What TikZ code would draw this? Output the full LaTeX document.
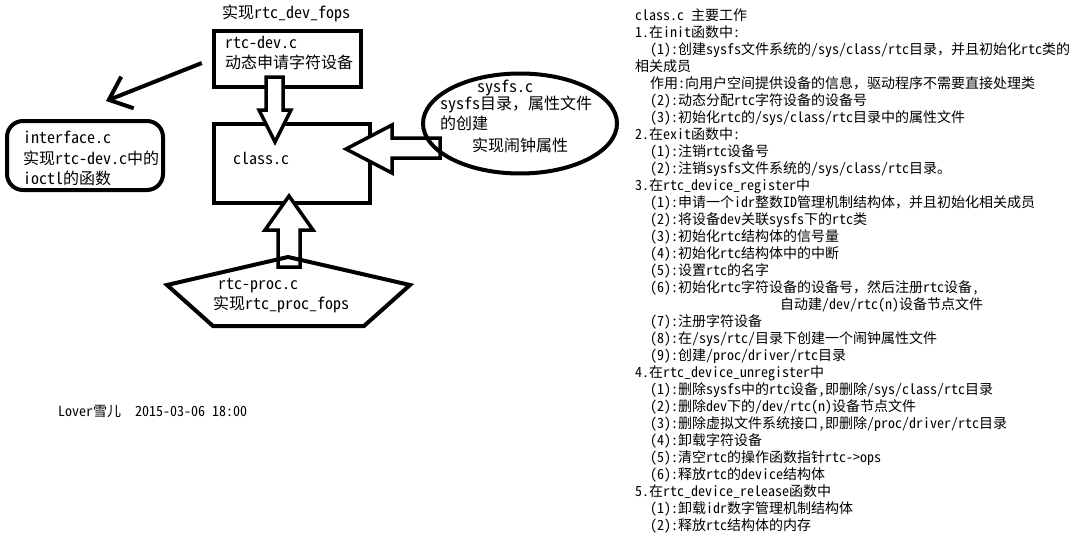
\documentclass[tikz,border=0pt]{standalone}
\usepackage{fontspec}
\setmainfont{Noto Sans CJK SC}[RawFeature=+hwid]
\newfontfamily\zhfull{Noto Sans CJK SC}
\newcommand\zhcomma{{\zhfull ，}}
\usepackage{tikz}
\usetikzlibrary{arrows.meta,shapes.geometric,positioning,calc}

\begin{document}
\begin{tikzpicture}[x=1pt,y=-1pt,>={Straight Barb[length=20pt,width=34pt]},
  frame/.style={draw,line width=4pt,inner sep=0pt},
  lbl/.style={anchor=west,inner sep=0pt,font=\fontsize{16}{20}\selectfont},
  blk/.style={draw,line width=3.5pt,fill=white,line join=miter}]
  \useasboundingbox (0,0) rectangle (1091,543);
  % rtc-dev
  \node[frame,minimum width=147pt,minimum height=56pt] (dev) at (287.5,59) {};
  \node[lbl] (devfops) at (222,13) {实现rtc\_dev\_fops};
  \node[lbl] (devname) at (225,42) {rtc-dev.c};
  \node[lbl] (devnote) at (225,62) {动态申请字符设备};
  % interface
  \node[frame,rounded corners=16pt,minimum width=156pt,minimum height=69pt] (iface) at (85,155.5) {};
  \node[lbl] (ifname) at (23,137) {interface.c};
  \node[lbl] (ifnote) at (23,158) {实现rtc-dev.c中的};
  \node[lbl] (ifioctl) at (23,178) {ioctl的函数};
  \coordinate (iftip) at (106,101);
  \draw[line width=4pt,->,shorten <=11pt] (dev.west) -- (iftip);
  % class
  \node[frame,minimum width=156pt,minimum height=79pt] (cls) at (292,163.5) {};
  \node[lbl] (clsname) at (233,158) {class.c};
  \draw[blk] (266,77) -- (283,77) -- (283,110) -- (291,110) -- (275,142) -- (259,110) -- (266,110) -- cycle;
  \draw[blk] (289,196) -- (313,230) -- (300,230) -- (300,267) -- (278,267) -- (278,230) -- (265,230) -- cycle;
  \draw[blk] (346,149) -- (392,125) -- (392,138) -- (440,138) -- (440,158) -- (392,158) -- (392,173) -- cycle;
  % sysfs
  \node[frame,ellipse,minimum width=194pt,minimum height=100pt] (sysfs) at (520,123.5) {};
  \node[lbl] (sysname) at (477,88) {sysfs.c};
  \node[lbl] (sysdir) at (440,104) {sysfs目录\zhcomma 属性文件};
  \node[lbl] (sysmake) at (440,123) {的创建};
  \node[lbl] (sysalarm) at (472,145) {实现闹钟属性};
  % rtc-proc
  \draw[line width=4pt,line join=miter] (288,257) -- (410,285) -- (364,326) -- (213,326) -- (167,285) -- cycle;
  \node[lbl] (procname) at (218,286) {rtc-proc.c};
  \node[lbl] (procfops) at (213,304) {实现rtc\_proc\_fops};
  % author
  \node[lbl,font=\fontsize{14}{17}\selectfont] (author) at (58,411) {Lover雪儿\ \ 2015-03-06 18:00};
  % class.c work list
  \node[anchor=north west,inner sep=0pt,align=left,font=\fontsize{14}{17}\selectfont] (notes) at (635,9) {%
class.c 主要工作\\
1.在init函数中:\\
\hspace*{15pt}(1):创建sysfs文件系统的/sys/class/rtc目录\zhcomma 并且初始化rtc类的\\
相关成员\\
\hspace*{15pt}作用:向用户空间提供设备的信息\zhcomma 驱动程序不需要直接处理类\\
\hspace*{15pt}(2):动态分配rtc字符设备的设备号\\
\hspace*{15pt}(3):初始化rtc的/sys/class/rtc目录中的属性文件\\
2.在exit函数中:\\
\hspace*{15pt}(1):注销rtc设备号\\
\hspace*{15pt}(2):注销sysfs文件系统的/sys/class/rtc目录。\\
3.在rtc\_device\_register中\\
\hspace*{15pt}(1):申请一个idr整数ID管理机制结构体\zhcomma 并且初始化相关成员\\
\hspace*{15pt}(2):将设备dev关联sysfs下的rtc类\\
\hspace*{15pt}(3):初始化rtc结构体的信号量\\
\hspace*{15pt}(4):初始化rtc结构体中的中断\\
\hspace*{15pt}(5):设置rtc的名字\\
\hspace*{15pt}(6):初始化rtc字符设备的设备号\zhcomma 然后注册rtc设备,\\
\hspace*{145pt}自动建/dev/rtc(n)设备节点文件\\
\hspace*{15pt}(7):注册字符设备\\
\hspace*{15pt}(8):在/sys/rtc/目录下创建一个闹钟属性文件\\
\hspace*{15pt}(9):创建/proc/driver/rtc目录\\
4.在rtc\_device\_unregister中\\
\hspace*{15pt}(1):删除sysfs中的rtc设备,即删除/sys/class/rtc目录\\
\hspace*{15pt}(2):删除dev下的/dev/rtc(n)设备节点文件\\
\hspace*{15pt}(3):删除虚拟文件系统接口,即删除/proc/driver/rtc目录\\
\hspace*{15pt}(4):卸载字符设备\\
\hspace*{15pt}(5):清空rtc的操作函数指针rtc->ops\\
\hspace*{15pt}(6):释放rtc的device结构体\\
5.在rtc\_device\_release函数中\\
\hspace*{15pt}(1):卸载idr数字管理机制结构体\\
\hspace*{15pt}(2):释放rtc结构体的内存};
\end{tikzpicture}
\end{document}
